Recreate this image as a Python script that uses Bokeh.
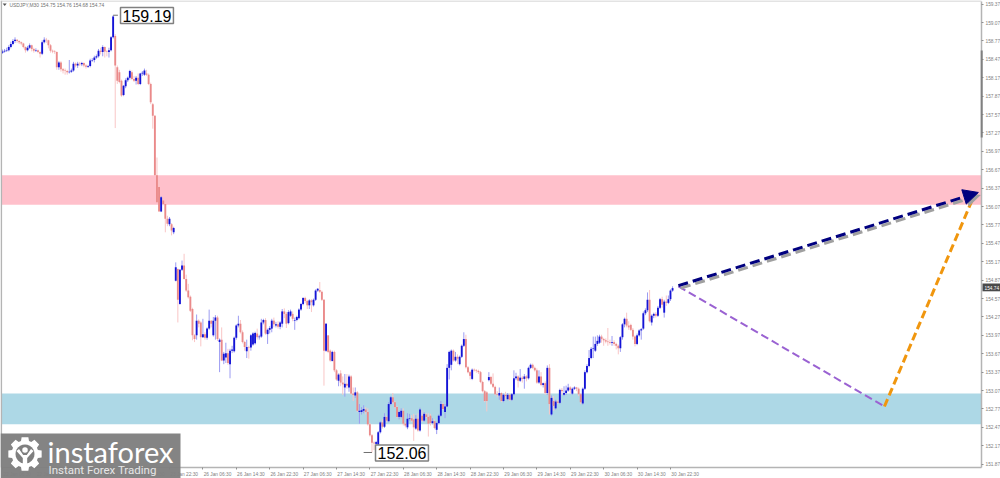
import math
from bokeh.plotting import figure
from bokeh.embed import file_html
from bokeh.resources import INLINE
from bokeh.models import (FixedTicker, Label, PolyAnnotation, BoxAnnotation, Arrow, NormalHead,
                          NumeralTickFormatter, Range1d, ColumnDataSource)

# open, high, low, close
candles_before_spike = [
(158.58,158.63,158.56,158.60),(158.60,158.64,158.58,158.61),(158.61,158.66,158.59,158.62),(158.62,158.70,158.60,158.67),
(158.67,158.76,158.65,158.72),(158.72,158.80,158.70,158.77),(158.77,158.83,158.74,158.79),(158.79,158.80,158.74,158.77),
(158.77,158.78,158.72,158.75),(158.75,158.76,158.70,158.73),(158.73,158.74,158.65,158.67),(158.67,158.68,158.58,158.62),
(158.62,158.69,158.60,158.66),(158.66,158.73,158.64,158.70),(158.70,158.71,158.60,158.64),(158.64,158.66,158.58,158.61),
(158.61,158.65,158.59,158.62),(158.62,158.63,158.57,158.59),(158.59,158.60,158.50,158.56),(158.56,158.78,158.54,158.75),
(158.75,158.83,158.73,158.79),(158.79,158.82,158.74,158.78),(158.78,158.79,158.65,158.70),(158.70,158.72,158.58,158.61),
(158.61,158.63,158.57,158.60),(158.60,158.62,158.56,158.59),(158.59,158.60,158.30,158.34),(158.34,158.44,158.30,158.42),
(158.42,158.44,158.27,158.31),(158.31,158.33,158.24,158.29),(158.29,158.32,158.22,158.28),(158.28,158.30,158.22,158.26),
(158.26,158.46,158.24,158.27),(158.27,158.32,158.25,158.29),(158.29,158.43,158.27,158.40),(158.40,158.42,158.34,158.37),
(158.37,158.43,158.33,158.40),(158.40,158.43,158.36,158.39),(158.39,158.43,158.36,158.41),(158.41,158.42,158.34,158.37),
(158.37,158.39,158.32,158.35),(158.35,158.38,158.33,158.36),(158.36,158.48,158.34,158.45),(158.45,158.49,158.43,158.46),
(158.46,158.53,158.42,158.50),(158.50,158.55,158.48,158.52),(158.52,158.64,158.50,158.61),(158.61,158.66,158.55,158.59),
(158.59,158.70,158.52,158.67),(158.67,158.68,158.50,158.60),(158.60,158.62,158.52,158.59),(158.59,158.66,158.50,158.62),
(158.62,158.85,158.60,158.83),(158.83,159.19,158.81,159.17),
]
candles_sell_off = [
(158.85,158.88,157.35,158.37),(158.34,158.37,158.07,158.12),(158.26,158.30,158.08,158.10),(158.12,158.14,157.86,157.88),
(157.89,158.05,157.87,158.04),(158.03,158.16,158.00,158.13),(158.13,158.19,158.10,158.17),(158.17,158.30,158.14,158.28),
(158.26,158.29,158.13,158.15),(158.15,158.20,158.10,158.12),(158.12,158.20,158.06,158.17),(158.17,158.24,158.05,158.07),
(158.07,158.25,158.05,158.24),(158.24,158.28,158.20,158.25),(158.22,158.32,158.20,158.29),(158.24,158.30,158.20,158.22),
(158.22,158.24,158.05,158.07),(158.07,158.09,157.74,157.77),(157.74,157.76,157.34,157.55),(157.55,157.56,156.58,156.58),
(156.58,156.87,156.14,156.14),(156.39,156.50,155.99,155.99),(155.99,156.24,155.98,156.22),(156.17,156.20,156.09,156.11),
(156.11,156.13,155.65,155.87),(155.87,155.92,155.75,155.79),(155.78,155.90,155.75,155.87),(155.78,155.80,155.60,155.68),
(155.65,155.74,155.62,155.72),
]
candles_jan26 = [
(154.86,155.16,154.85,155.08),(155.05,155.06,154.18,154.55),(154.48,155.05,154.47,155.04),(155.04,155.19,155.02,155.11),
(155.11,155.30,154.88,154.89),(154.89,154.96,154.68,154.70),(154.70,154.81,154.57,154.59),(154.60,154.62,154.35,154.37),
(154.40,154.42,153.89,153.97),(153.97,153.99,153.86,153.91),(153.97,154.31,153.90,154.21),(154.21,154.23,154.10,154.16),
(154.18,154.20,153.79,153.94),(153.94,154.24,153.93,153.99),(153.99,154.02,153.90,153.93),(153.93,154.10,153.90,154.08),
(154.08,154.39,154.06,154.21),(154.21,154.22,154.10,154.16),(153.97,154.27,153.95,154.21),(154.21,154.30,153.90,154.26),
(154.26,154.29,153.88,153.91),(153.86,153.92,153.37,153.90),(153.90,154.10,153.55,153.56),(153.56,153.70,153.50,153.67),
(153.61,153.85,153.52,153.68),(153.68,153.75,153.49,153.52),(153.50,153.75,153.27,153.72),(153.72,153.80,153.68,153.74),
(153.71,153.95,153.69,153.93),(153.93,154.15,153.90,154.13),(154.13,154.29,154.10,154.16),(154.16,154.22,154.00,154.02),
(154.02,154.05,153.84,153.86),(153.86,153.88,153.72,153.78),(153.71,153.90,153.60,153.78),(153.78,153.80,153.59,153.77),
(153.77,153.99,153.72,153.97),(153.82,154.02,153.80,154.00),(153.84,154.03,153.82,154.01),(154.00,154.08,153.90,153.94),
(153.94,153.98,153.90,153.95),(153.95,154.24,153.93,154.18),(154.18,154.24,154.15,154.22),(154.22,154.25,153.98,154.00),
(153.99,154.08,153.83,154.06),(154.06,154.12,154.00,154.09),(154.08,154.24,154.02,154.21),(154.21,154.26,154.10,154.15),
(154.13,154.19,154.10,154.15),(154.15,154.20,154.08,154.11),(154.11,154.20,154.07,154.18),(154.16,154.40,154.10,154.36),
(154.36,154.41,154.25,154.32),(154.32,154.35,154.09,154.16),(154.17,154.38,154.15,154.35),(154.29,154.39,154.27,154.36),
(154.32,154.36,154.20,154.24),(154.21,154.26,154.06,154.22),(154.22,154.29,154.20,154.27),(154.25,154.41,154.23,154.39),
(154.39,154.50,154.37,154.48),(154.48,154.59,154.46,154.58),(154.58,154.60,154.50,154.53),(154.53,154.55,154.40,154.46),
(154.46,154.56,154.40,154.54),(154.54,154.56,154.35,154.51),(154.46,154.57,154.44,154.55),(154.55,154.72,154.53,154.70),
(154.70,154.74,154.68,154.73),(154.71,154.84,154.66,154.68),(154.68,154.70,154.53,154.55),(154.55,154.56,153.15,153.72),
(153.72,154.17,153.70,154.16),(153.97,153.97,153.68,153.70),(153.72,153.74,153.54,153.56),(153.55,153.72,153.55,153.70),
(153.70,153.72,153.37,153.40),(153.40,153.42,153.23,153.25),(153.23,153.35,153.14,153.33),
]
candles_jan27 = [
(153.35,153.40,153.14,153.20),(153.20,153.30,153.00,153.17),(153.12,153.34,152.97,153.18),(153.18,153.34,153.10,153.15),
(153.12,153.33,153.05,153.30),(153.30,153.32,153.00,153.02),(153.02,153.12,152.90,153.00),(152.99,153.12,152.95,153.04),
(153.04,153.06,152.72,152.74),(152.72,152.85,152.53,152.74),(152.72,152.80,152.68,152.75),(152.74,152.83,152.70,152.77),
(152.76,152.80,152.68,152.72),(152.72,152.78,152.50,152.52),(152.52,152.54,152.32,152.34),(152.34,152.36,152.06,152.22),
(152.22,152.24,152.10,152.21),(152.20,152.25,152.14,152.23),(152.19,152.41,152.15,152.39),(152.39,152.57,152.37,152.55),
(152.55,152.60,152.45,152.48),(152.48,152.70,152.46,152.64),(152.64,152.66,152.55,152.58),(152.57,152.88,152.55,152.85),
(152.85,152.98,152.83,152.96),(152.96,153.03,152.85,152.88),(152.88,152.90,152.78,152.80),(152.80,152.82,152.62,152.64),
(152.64,152.74,152.60,152.72),(152.64,152.78,152.62,152.74),(152.74,152.78,152.50,152.53),(152.53,152.55,152.47,152.50),
(152.47,152.70,152.44,152.61),(152.61,152.69,152.58,152.62),(152.62,152.67,152.56,152.58),(152.60,152.69,152.25,152.47),
(152.45,152.67,152.43,152.61),(152.61,152.70,152.40,152.42),(152.42,152.79,152.40,152.76),(152.66,152.75,152.56,152.58),
(152.58,152.72,152.56,152.69),(152.68,152.70,152.62,152.64),(152.64,152.70,152.32,152.53),(152.66,152.69,152.50,152.54),
(152.54,152.62,152.52,152.57),(152.57,152.60,152.44,152.46),(152.43,152.56,152.36,152.54),(152.54,152.68,152.52,152.66),
(152.66,152.90,152.64,152.85),(152.85,152.87,152.75,152.77),(152.72,152.85,152.62,152.81),
]
candles_jan28 = [
(152.81,153.50,152.80,153.44),(153.44,153.72,153.25,153.70),(153.49,153.74,153.40,153.72),(153.72,153.74,153.54,153.56),
(153.56,153.70,153.54,153.62),(153.62,153.66,153.50,153.59),(153.50,153.64,153.48,153.62),(153.62,153.82,153.60,153.80),
(153.80,154.02,153.78,153.91),(153.91,153.98,153.43,153.45),(153.45,153.47,153.35,153.37),(153.37,153.39,153.25,153.31),
(153.26,153.43,153.24,153.41),(153.41,153.43,153.38,153.40),(153.40,153.42,153.36,153.39),(153.39,153.41,153.34,153.37),
(153.37,153.39,153.19,153.21),(153.21,153.23,153.04,153.06),(153.06,153.08,152.88,152.90),(153.04,153.06,152.73,152.90),
(153.24,153.37,153.22,153.29),(153.29,153.31,153.16,153.18),(153.18,153.35,153.11,153.13),(153.13,153.15,152.99,153.01),
(153.01,153.06,152.96,153.00),(152.99,153.12,152.92,153.03),(153.03,153.04,152.88,152.90),(152.90,153.02,152.88,153.00),
(153.00,153.05,152.92,152.98),(152.93,153.03,152.91,153.00),(153.00,153.02,152.90,152.92),(152.92,153.03,152.90,153.01),
]
candles_jan29 = [
(153.01,153.40,152.99,153.27),(153.27,153.36,153.24,153.30),(153.30,153.32,153.12,153.23),(153.23,153.42,153.21,153.28),
(153.28,153.31,153.20,153.26),(153.26,153.34,153.10,153.30),(153.30,153.32,153.22,153.27),(153.27,153.46,153.25,153.44),
(153.44,153.51,153.42,153.49),(153.49,153.51,153.42,153.44),(153.44,153.46,153.38,153.40),(153.40,153.43,153.18,153.20),
(153.20,153.40,153.18,153.30),(153.30,153.37,153.14,153.16),(153.16,153.20,153.12,153.19),(153.19,153.22,153.00,153.03),
(153.03,153.48,153.00,153.44),(153.44,153.50,152.68,152.85),(152.68,152.99,152.66,152.95),(152.90,152.98,152.74,152.82),
(152.78,152.92,152.76,152.89),(152.89,152.92,152.85,152.87),(152.87,153.10,152.85,153.08),(153.08,153.11,153.00,153.06),
(153.00,153.14,152.98,153.03),(153.03,153.15,153.00,153.07),(153.07,153.18,153.05,153.12),(153.12,153.14,153.02,153.08),
(153.02,153.12,153.00,153.10),(153.10,153.14,153.08,153.12),(153.12,153.13,153.06,153.10),(153.10,153.12,152.98,153.01),
(153.01,153.03,152.85,152.88),(152.86,153.12,152.84,153.10),(153.10,153.40,153.08,153.37),(153.37,153.50,153.35,153.47),
(153.47,153.73,153.45,153.60),(153.60,153.78,153.58,153.75),
]
candles_jan30 = [
(153.75,153.95,153.60,153.76),(153.72,153.95,153.70,153.83),(153.83,153.97,153.80,153.88),(153.85,153.98,153.83,153.95),
(153.95,153.98,153.85,153.91),(153.91,153.93,153.80,153.89),(153.89,153.92,153.84,153.87),(153.87,154.09,153.80,153.86),
(153.86,153.90,153.82,153.85),(153.85,153.96,153.80,153.86),(153.86,153.89,153.80,153.83),(153.83,153.85,153.74,153.80),
(153.80,153.82,153.66,153.76),(153.76,153.96,153.70,153.94),(153.94,154.17,153.90,154.15),(154.15,154.26,154.10,154.24),
(154.24,154.34,154.10,154.13),(154.13,154.20,154.06,154.10),(154.14,154.16,154.04,154.06),(154.06,154.09,153.90,153.95),
(153.95,153.97,153.79,153.83),(153.83,154.00,153.81,153.97),(153.97,154.07,153.95,154.05),(154.05,154.09,153.90,154.07),
(154.08,154.36,154.06,154.33),(154.33,154.41,154.30,154.38),(154.38,154.67,154.35,154.55),(154.55,154.71,154.18,154.20),
(154.18,154.31,154.13,154.29),(154.29,154.34,154.25,154.32),(154.32,154.35,154.26,154.29),(154.29,154.45,154.27,154.42),
(154.42,154.58,154.40,154.56),(154.56,154.60,154.42,154.47),(154.34,154.55,154.26,154.52),(154.52,154.62,154.45,154.50),
(154.50,154.62,154.48,154.56),(154.56,154.72,154.53,154.70),(154.70,154.77,154.68,154.74),
]

price_ticks = [151.87,152.17,152.47,152.77,153.07,153.37,153.67,153.97,154.27,154.57,154.87,155.17,155.47,
               155.77,156.07,156.37,156.67,156.97,157.27,157.57,157.87,158.17,158.47,158.77,159.07,159.37]
time_tick_bars = [0,16,32,48,64,80,96,112,128,144,160,176,192,208,224,240,256,272,288,304,320]
time_tick_labels = ["22 Jan 06:30","22 Jan 14:30","22 Jan 22:30","23 Jan 06:30","23 Jan 14:30","23 Jan 22:30",
                    "26 Jan 06:30","26 Jan 14:30","26 Jan 22:30","27 Jan 06:30","27 Jan 14:30","27 Jan 22:30",
                    "28 Jan 06:30","28 Jan 14:30","28 Jan 22:30","29 Jan 06:30","29 Jan 14:30","29 Jan 22:30",
                    "30 Jan 06:30","30 Jan 14:30","30 Jan 22:30"]
resistance_zone = (156.10, 156.58)
support_zone = (152.52, 153.02)
navy_path_x, navy_path_y = [323.8, 467.5], [154.78, 156.30]
purple_path_x, purple_path_y = [323.8, 422.5], [154.77, 152.81]
orange_path_x, orange_path_y = [422.5, 465.2], [152.81, 156.23]
high_mark = (53, 159.19, "159.19")
low_mark = (177, 152.06, "152.06")
last_price = "154.74"
header = "USDJPY,M30  154.75  154.76  154.68  154.74"

W, H = 1000, 478
CHART_LEFT, CHART_RIGHT, CHART_FLOOR = -0.48, 469, 151.815

rows = (candles_before_spike + candles_sell_off + candles_jan26 + candles_jan27
        + candles_jan28 + candles_jan29 + candles_jan30)
opens, highs, lows, closes = [list(c) for c in zip(*rows)]
idx = list(range(len(rows)))
UP_BODY, UP_WICK, DN_BODY, DN_WICK = "#1414d6", "#9c9cf2", "#ea8a8a", "#f9c6c6"
src = ColumnDataSource(dict(
    x=idx, o=opens, h=highs, l=lows, c=closes,
    body=[UP_BODY if c >= o else DN_BODY for o, c in zip(opens, closes)],
    wick=[UP_WICK if c >= o else DN_WICK for o, c in zip(opens, closes)]))

p = figure(width=W, height=H, output_backend="svg", toolbar_location=None,
           x_range=Range1d(-0.958, 478.1), y_range=Range1d(151.636, 159.43),
           y_axis_location="right", min_border_left=0, min_border_top=0,
           min_border_right=0, min_border_bottom=0, tools="")
p.grid.visible = False
p.background_fill_color = "white"
p.outline_line_color = None

# zones
for (lo, hi), col in ((resistance_zone, "#ffc0cb"), (support_zone, "#add8e6")):
    p.add_layout(BoxAnnotation(left=CHART_LEFT, right=CHART_RIGHT, bottom=lo, top=hi,
                               fill_color=col, fill_alpha=1, line_color=None, level="underlay"))

p.segment("x", "l", "x", "h", source=src, line_color="wick", line_width=1)
p.vbar("x", 0.9, "o", "c", source=src, fill_color="body", line_color=None)

# axes sit at fixed places inside the full-canvas frame
ya = p.yaxis[0]
ya.fixed_location = CHART_RIGHT
ya.bounds = (CHART_FLOOR, 159.413)
ya.ticker = FixedTicker(ticks=price_ticks)
ya.formatter = NumeralTickFormatter(format="0.00")
ya.major_label_text_font = "Liberation Sans"
ya.major_label_text_font_size = "4.8px"
ya.major_label_text_color = "#808080"
ya.major_label_standoff = 2
ya.major_tick_in, ya.major_tick_out = 0, 2
ya.major_tick_line_color = "#909090"
ya.minor_tick_line_color = None
ya.axis_line_color = "#b4b4b4"
ya.axis_line_width = 1.5

xa = p.xaxis[0]
xa.fixed_location = CHART_FLOOR
xa.bounds = (CHART_LEFT, CHART_RIGHT)
centers = [b + 7 for b in time_tick_bars]
xa.ticker = FixedTicker(ticks=centers, minor_ticks=time_tick_bars)
xa.major_label_overrides = {c: t for c, t in zip(centers, time_tick_labels)}
xa.major_label_text_font = "Liberation Sans"
xa.major_label_text_font_size = "4.8px"
xa.major_label_text_color = "#808080"
xa.major_label_standoff = 2
xa.major_tick_line_color = None
xa.major_tick_in, xa.major_tick_out = 0, 0
xa.minor_tick_line_color = "#909090"
xa.minor_tick_in, xa.minor_tick_out = 0, 2
xa.axis_line_color = "#b4b4b4"
xa.axis_line_width = 1.5

# forecast paths
DX, DY = 1.2, 0.04
p.add_layout(Arrow(end=NormalHead(size=15, fill_color="#a0a0a0", line_color=None),
                   x_start=navy_path_x[0]+DX, y_start=navy_path_y[0]-DY,
                   x_end=navy_path_x[1]+DX, y_end=navy_path_y[1]-DY,
                   line_color="#a0a0a0", line_width=3, line_dash="10 5"))
p.line(purple_path_x, purple_path_y, line_color="#9a62d2", line_width=2, line_dash="8 4")
p.line(orange_path_x, orange_path_y, line_color="#f0960e", line_width=3, line_dash="8 4")
p.add_layout(Arrow(end=NormalHead(size=15, fill_color="#00007f", line_color="#00007f", line_width=1),
                   x_start=navy_path_x[0], y_start=navy_path_y[0],
                   x_end=navy_path_x[1], y_end=navy_path_y[1],
                   line_color="#00007f", line_width=3, line_dash="10 5"))

# high / low markers
for (bar, price, txt), off in ((high_mark, 2.3), (low_mark, -4.0)):
    p.segment([bar + (0 if off > 0 else off)], [price], [bar + (off if off > 0 else 0)], [price], line_color="#707070", line_width=1)
p.add_layout(Label(x=120, y=15, x_units="canvas", y_units="canvas", text=high_mark[2], text_font="Liberation Sans",
                   text_font_size="16px", text_color="black", text_align="left", text_baseline="middle",
                   background_fill_color="white", border_line_color="#808080", border_line_width=1.5, padding=2))
p.add_layout(Label(x=375, y=452.5, x_units="canvas", y_units="canvas", text=low_mark[2], text_font="Liberation Sans",
                   text_font_size="16px", text_color="black", text_align="left", text_baseline="middle",
                   background_fill_color="white", border_line_color="#808080", border_line_width=1.5, padding=2))

def label(x, y, text, size, color, font="Liberation Sans", **kw):
    p.add_layout(Label(x=x, y=y, x_units="canvas", y_units="canvas", text=text, text_font=font,
                       text_font_size=size, text_color=color, text_baseline="middle", level="overlay", **kw))

def poly(pts, color, alpha=1.0):
    p.add_layout(PolyAnnotation(xs=[a for a, _ in pts], ys=[b for _, b in pts],
                                xs_units="canvas", ys_units="canvas", fill_color=color, fill_alpha=alpha,
                                line_color=None, level="overlay"))

def rect(l, t, r, b, color, alpha=1.0):
    poly([(l, t), (r, t), (r, b), (l, b)], color, alpha)

# the chart window's left and top edges
rect(0, 0, 1.6, 467, "#b4b4b4")
rect(0, 0, 981, 1, "#c8c8c8")

# header, scroll thumb and current price tag
poly([(2.2, 3), (6.2, 3), (4.2, 5.6)], "#555555")
label(9, 4.6, header, "4.9px", "#707070")
rect(980.2, 50, 982.2, 137, "#808080")
rect(982, 283, 1000, 290.8, "#4a4a4a")
label(984, 287, last_price, "4.8px", "white")

# watermark
rect(0, 433, 180, 478, "#7f7f7f", 0.96)
GX, GY = 24.5, 453.5
gear = []
for k in range(8):
    a = k*math.pi/4
    for da, r in ((-0.30, 13.5), (-0.20, 17), (0.20, 17), (0.30, 13.5)):
        gear.append((GX + r*math.cos(a+da), GY + r*math.sin(a+da)))
poly(gear, "white")
poly([(GX + 9.5*math.cos(k*math.pi/12), GY + 9.5*math.sin(k*math.pi/12)) for k in range(24)], "#7f7f7f")
poly([(GX + 2.8*math.cos(k*math.pi/6), GY - 4 + 2.8*math.sin(k*math.pi/6)) for k in range(12)], "white")
poly([(GX+a, GY+b) for a, b in ((-8.5,-3),(-6,-5),(-1.8,1),(1.8,1),(6,-5),(8.5,-3),(2.2,4),(2.2,11),(-2.2,11),(-2.2,4))], "white")
label(47, 451, "instaforex", "29px", "white", font="Lato")
label(48, 469, "Instant Forex Trading", "11.5px", "#e6e6e6", font="Roboto")

open("out.html", "w").write(file_html(p, INLINE))
